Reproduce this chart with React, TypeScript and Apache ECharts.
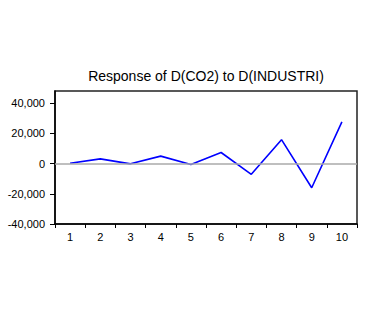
import React, { useEffect, useRef } from "react";
import * as echarts from "echarts";

const categories = ["1", "2", "3", "4", "5", "6", "7", "8", "9", "10"];
const responseValues = [200, 3100, -200, 4900, -700, 7300, -7100, 15800, -16000, 27600];
const yTickValues = [-40000, -20000, 0, 20000, 40000];
const titleText = "Response of D(CO2) to D(INDUSTRI)";

export default function App() {
  const ref = useRef<HTMLDivElement>(null);
  useEffect(() => {
    if (!ref.current) return;
    const chart = echarts.init(ref.current, null, { renderer: "svg" });
    const font = "'Liberation Sans', Arial, sans-serif";
    chart.setOption({
      animation: false,
      backgroundColor: "#ffffff",
      graphic: [
        {
          type: "text",
          x: 206,
          y: 69,
          style: {
            text: titleText,
            textAlign: "center",
            textVerticalAlign: "top",
            fontFamily: font,
            fontSize: 14,
            fill: "#000",
          },
        },
      ],
      grid: {
        left: 55,
        right: 15,
        top: 91,
        bottom: 85,
        show: true,
        borderColor: "#222",
        borderWidth: 1.5,
        backgroundColor: "#fff",
      },
      xAxis: {
        type: "category",
        data: categories,
        boundaryGap: true,
        axisLine: { show: true, onZero: false, lineStyle: { color: "#000", width: 1.5 } },
        axisTick: { show: true, alignWithLabel: false, length: 4, lineStyle: { color: "#000" } },
        axisLabel: { fontFamily: font, fontSize: 11, color: "#000", margin: 7 },
        splitLine: { show: false },
      },
      yAxis: {
        type: "value",
        min: -40000,
        max: 48000,
        axisLine: { show: true, lineStyle: { color: "#000", width: 1.5 } },
        axisTick: { show: true, length: 5, lineStyle: { color: "#000" }, customValues: yTickValues },
        axisLabel: {
          fontFamily: font,
          fontSize: 11,
          color: "#000",
          margin: 10,
          customValues: yTickValues,
          formatter: (v: number) => v.toLocaleString("en-US"),
        },
        splitLine: { show: false },
      },
      series: [
        {
          type: "line",
          data: responseValues,
          symbol: "none",
          lineStyle: { color: "#0000ff", width: 1.6 },
          markLine: {
            silent: true,
            symbol: "none",
            label: { show: false },
            lineStyle: { color: "#aaaaaa", type: "solid", width: 1.5 },
            data: [{ yAxis: 0 }],
          },
          z: 3,
        },
      ],
    });
    return () => chart.dispose();
  }, []);
  return (
    <div
      ref={ref}
      style={{ position: "fixed", left: 0, top: 0, width: 372, height: 309, background: "#fff" }}
    />
  );
}
